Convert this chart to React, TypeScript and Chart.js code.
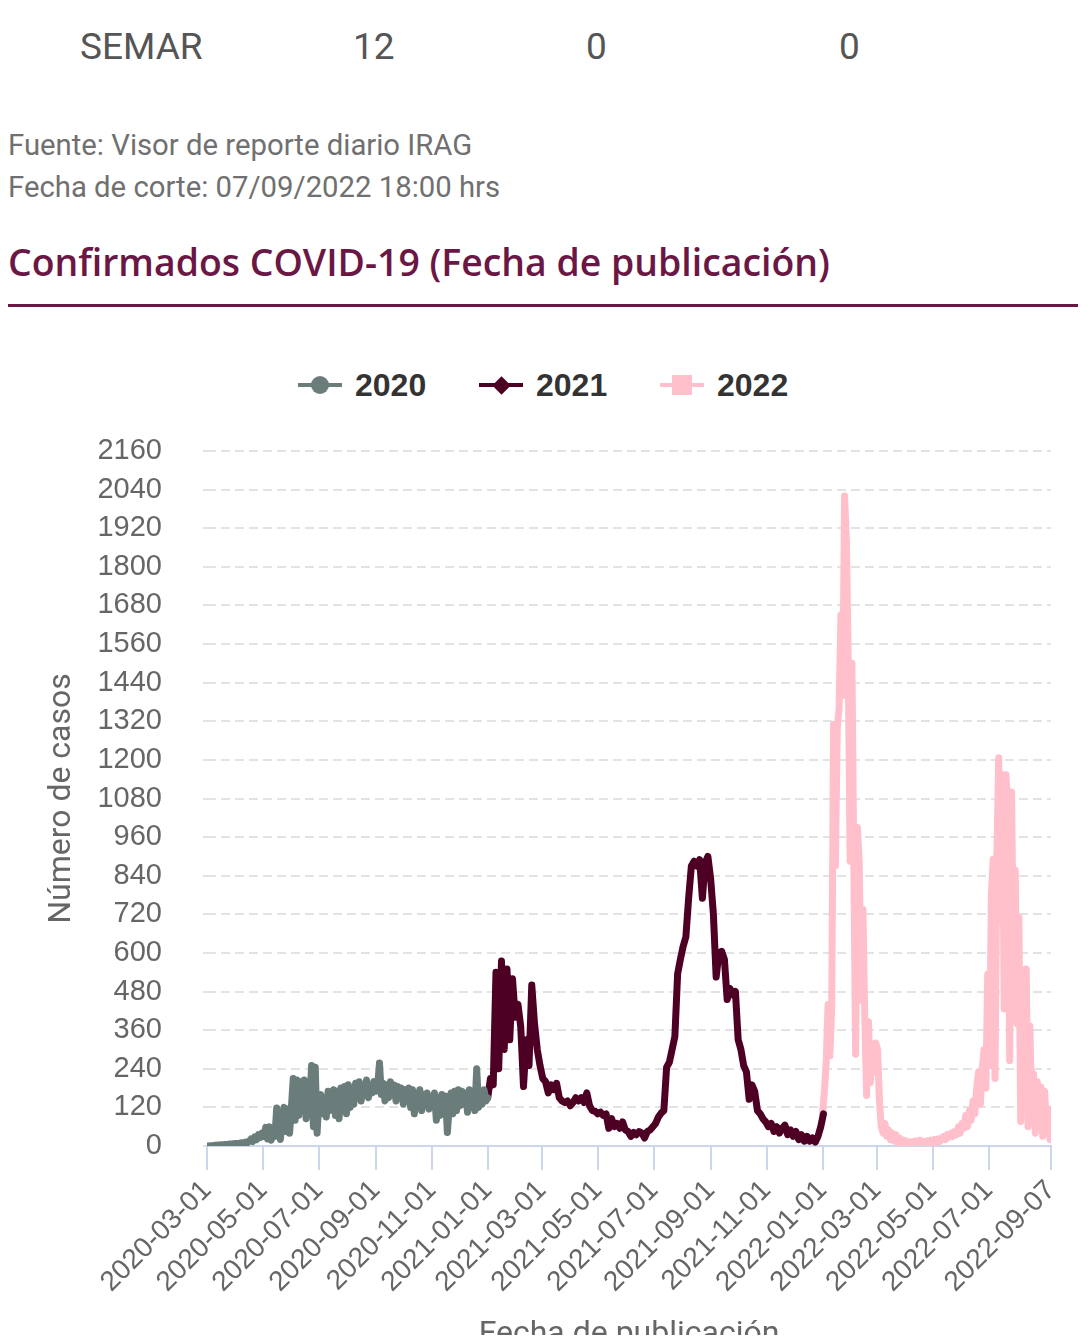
import React, { useEffect, useRef } from "react";
import { Chart, registerables } from "chart.js";

Chart.register(...registerables);

// ---------- data ----------
const TABLE_ROW = ["SEMAR", "12", "0", "0"];
const SOURCE_LINES = ["Fuente: Visor de reporte diario IRAG", "Fecha de corte: 07/09/2022 18:00 hrs"];
const TITLE = "Confirmados COVID-19 (Fecha de publicación)";

const SERIES_NAMES = ["2020", "2021", "2022"];
const SERIES_COLORS = ["#6b7d7a", "#4d0023", "#ffc0cb"];

// 2020: one value every 2 days starting 2020-03-01
const START_2020 = "2020-03-01";
const STEP_2020 = 2;
const VALUES_2020 = [
  0, 0, 1, 1, 2, 2, 3, 3, 4, 3, 5, 4, 6, 5, 7, 6, 8, 7, 9, 10, 8, 12, 10,
  15, 22, 14, 28, 20, 35, 26, 40,
  30, 58, 22, 60, 18, 50, 30,
  118, 60, 20, 90, 120, 45, 115, 40,
  120, 210, 80, 205, 95, 200, 120, 205, 85, 170,
  120, 250, 60, 245, 40, 140,
  160, 100, 150, 90, 170, 110, 140,
  175, 95, 170, 85, 180, 110, 185, 100, 190, 120, 180, 130,
  195, 150, 200, 140, 185, 160, 205, 150, 190, 165, 200, 170, 185, 258,
  160, 195, 140, 190, 150, 200, 165, 190, 140, 185, 150, 180, 130, 175, 140, 180,
  120, 175, 100, 165, 120, 175, 110, 160, 130, 165, 115, 150, 130,
  165, 80, 150, 95, 160, 110, 155, 42, 120, 165, 100,
  170, 110, 175, 125, 170, 130, 165, 105, 175, 120, 170, 110, 240, 120,
  165, 130, 175, 140, 150,
];

// 2021: one value every 3 days starting 2021-01-01
const START_2021 = "2021-01-01";
const STEP_2021 = 3;
const VALUES_2021 = [
  150, 210, 190, 540, 240, 575, 300, 550, 330, 520, 400, 440, 370, 185,
  330, 250, 500, 380, 300, 250, 210, 200, 165, 190, 175, 195, 150, 140,
  135, 140, 125, 135, 150, 140, 150, 135, 165, 125, 110, 108, 100, 105,
  95, 100, 55, 85, 60, 70, 55, 75, 50, 45, 30, 42, 35, 45, 40, 25,
  45, 50, 60, 70, 90, 102, 110, 245, 260, 300, 340, 535, 580, 620, 650,
  770, 870, 885, 870, 890, 770, 880, 900, 830, 720, 525, 600, 605, 580,
  455, 490, 470, 480, 330, 300, 250, 230, 145, 190, 170, 110, 100, 85,
  75, 60, 70, 45, 60, 40, 55, 65, 35, 50, 30, 45, 20, 35, 15, 30, 15,
  25, 12, 30, 60, 100,
];

// 2022: one value every 2 days starting 2022-01-01
const START_2022 = "2022-01-01";
const STEP_2022 = 2;
const VALUES_2022 = [
  100, 170, 265, 440, 280, 440, 1310, 870, 1300, 1360, 1650, 1400, 2020,
  1880, 1500, 885, 1500, 900, 285, 990, 880, 453, 736, 400, 157, 386,
  197, 305, 230, 320, 300, 140, 60, 40, 70, 30, 50, 20, 40, 15, 35, 12,
  25, 10, 18, 8, 15, 10, 12, 14, 8, 16, 10, 18, 8, 14, 10, 16, 6, 18,
  12, 20, 10, 22, 14, 25, 30, 20, 35, 28, 40, 30, 45, 35, 60, 40, 70,
  55, 95, 60, 110, 80, 140, 100, 180, 230, 130, 240, 300, 180, 534, 250,
  783, 891, 210, 900, 1207, 700, 1154, 426, 1154, 1000, 265, 1100, 600,
  857, 380, 710, 76, 548, 150, 550, 60, 373, 100, 224, 40, 200, 80, 183,
  30, 170, 60, 116, 20,
];

const X_TICK_LABELS = [
  "2020-03-01", "2020-05-01", "2020-07-01", "2020-09-01", "2020-11-01",
  "2021-01-01", "2021-03-01", "2021-05-01", "2021-07-01", "2021-09-01",
  "2021-11-01", "2022-01-01", "2022-03-01", "2022-05-01", "2022-07-01",
  "2022-09-07",
];
const Y_MAX = 2160;
const Y_STEP = 120;
const X_TITLE = "Fecha de publicación";
const Y_TITLE = "Número de casos";

// ---------- helpers ----------
const ORIGIN = Date.UTC(2020, 2, 1);
function dayOf(s: string): number {
  const [y, m, d] = s.split("-").map(Number);
  return Math.round((Date.UTC(y, m - 1, d) - ORIGIN) / 86400000);
}
function toPoints(values: number[], start: string, step: number) {
  const s = dayOf(start);
  return values.map((v, i) => ({ x: s + i * step, y: v }));
}

const TICK_FONT = "'Liberation Sans', Arial, sans-serif";
const TEXT_FONT = "Roboto, 'Liberation Sans', Arial, sans-serif";

function LegendIcon({ color, shape }: { color: string; shape: string }) {
  let marker: React.CSSProperties;
  if (shape === "circle") {
    marker = { width: 18, height: 18, borderRadius: "50%", left: 13, top: -7 };
  } else if (shape === "diamond") {
    marker = { width: 13, height: 13, transform: "rotate(45deg)", left: 15.5, top: -4.5 };
  } else {
    marker = { width: 20, height: 20, left: 12, top: -8 };
  }
  return (
    <div style={{ position: "relative", width: 44, height: 4, background: color }}>
      <div style={{ position: "absolute", background: color, ...marker }} />
    </div>
  );
}

export default function App() {
  const ref = useRef<HTMLCanvasElement>(null);

  useEffect(() => {
    if (!ref.current) return;
    const series = [
      toPoints(VALUES_2020, START_2020, STEP_2020),
      toPoints(VALUES_2021, START_2021, STEP_2021),
      toPoints(VALUES_2022, START_2022, STEP_2022),
    ];
    const chart = new Chart(ref.current, {
      type: "line",
      data: {
        datasets: series.map((pts, i) => ({
          label: SERIES_NAMES[i],
          data: pts,
          borderColor: SERIES_COLORS[i],
          backgroundColor: SERIES_COLORS[i],
          borderWidth: 7,
          pointRadius: 0,
          tension: 0,
          fill: false,
          borderJoinStyle: "round" as const,
          borderCapStyle: "round" as const,
        })),
      },
      options: {
        animation: false,
        responsive: true,
        maintainAspectRatio: false,
        layout: { padding: { top: 31, right: 32, left: 0, bottom: 0 } },
        plugins: {
          legend: { display: false },
          tooltip: { enabled: false },
          title: { display: false },
        },
        scales: {
          x: {
            type: "linear",
            min: dayOf(X_TICK_LABELS[0]),
            max: dayOf(X_TICK_LABELS[X_TICK_LABELS.length - 1]),
            afterBuildTicks: (scale: any) => {
              scale.ticks = X_TICK_LABELS.map((l) => ({ value: dayOf(l) }));
            },
            afterFit: (scale: any) => {
              scale.height = 220;
            },
            ticks: {
              autoSkip: false,
              minRotation: 45,
              maxRotation: 45,
              padding: 4,
              color: "#666666",
              font: { family: TICK_FONT, size: 28 },
              callback: (_v: any, i: number) => X_TICK_LABELS[i],
            },
            grid: {
              drawOnChartArea: false,
              drawTicks: true,
              tickLength: 24,
              color: "#ccd6eb",
              lineWidth: 2,
            },
            border: { display: true, color: "#ccd6eb", width: 2 },
            title: {
              display: true,
              text: X_TITLE,
              color: "#666666",
              font: { family: TEXT_FONT, size: 32 },
              padding: { top: 0, bottom: 12 },
            },
          },
          y: {
            min: 0,
            max: Y_MAX,
            afterFit: (scale: any) => {
              scale.width = 199;
              scale.paddingTop = 10;
              scale.paddingBottom = 10;
            },
            ticks: {
              stepSize: Y_STEP,
              padding: 41,
              color: "#666666",
              font: { family: TICK_FONT, size: 29 },
              callback: (v: any) => String(v),
            },
            grid: {
              color: "#e3e3e3",
              lineWidth: 2,
              drawTicks: true,
              tickLength: 4,
            },
            border: { display: false, dash: [9, 5] },
            title: {
              display: true,
              text: Y_TITLE,
              color: "#666666",
              font: { family: TEXT_FONT, size: 32 },
              padding: { top: 35, bottom: 0 },
            },
          },
        },
      },
    } as any);
    return () => chart.destroy();
  }, []);

  const cellX = [72, 345, 578, 831];
  const shapes = ["circle", "diamond", "square"];
  const legendX = [290, 471, 652];

  return (
    <div
      style={{
        position: "relative",
        width: 1075,
        height: 1327,
        overflow: "hidden",
        fontFamily: TEXT_FONT,
      }}
    >
      {TABLE_ROW.map((t, i) => (
        <div
          key={i}
          style={{
            position: "absolute",
            left: cellX[i],
            top: 17,
            fontSize: 37,
            lineHeight: "44px",
            color: "#555555",
            whiteSpace: "nowrap",
          }}
        >
          {t}
        </div>
      ))}
      {SOURCE_LINES.map((t, i) => (
        <div
          key={i}
          style={{
            position: "absolute",
            left: 0,
            top: 120 + i * 42,
            fontSize: 29.3,
            lineHeight: "35px",
            color: "#707070",
            whiteSpace: "nowrap",
          }}
        >
          {t}
        </div>
      ))}
      <div
        style={{
          position: "absolute",
          left: 0,
          top: 232,
          fontFamily: "'Open Sans', Roboto, sans-serif",
          fontWeight: 600,
          fontSize: 37.4,
          lineHeight: "44px",
          color: "#6b1745",
          whiteSpace: "nowrap",
        }}
      >
        {TITLE}
      </div>
      <div
        style={{
          position: "absolute",
          left: 0,
          top: 296,
          width: 1070,
          height: 3,
          background: "#6b1745",
        }}
      />
      {SERIES_NAMES.map((n, i) => (
        <div
          key={n}
          style={{
            position: "absolute",
            left: legendX[i],
            top: 358,
            height: 38,
            display: "flex",
            alignItems: "center",
          }}
        >
          <LegendIcon color={SERIES_COLORS[i]} shape={shapes[i]} />
          <span
            style={{
              marginLeft: 13,
              fontFamily: TICK_FONT,
              fontWeight: 700,
              fontSize: 32,
              color: "#333333",
            }}
          >
            {n}
          </span>
        </div>
      ))}
      <div style={{ position: "absolute", left: 0, top: 412, width: 1075, height: 946 }}>
        <canvas ref={ref} />
      </div>
    </div>
  );
}
